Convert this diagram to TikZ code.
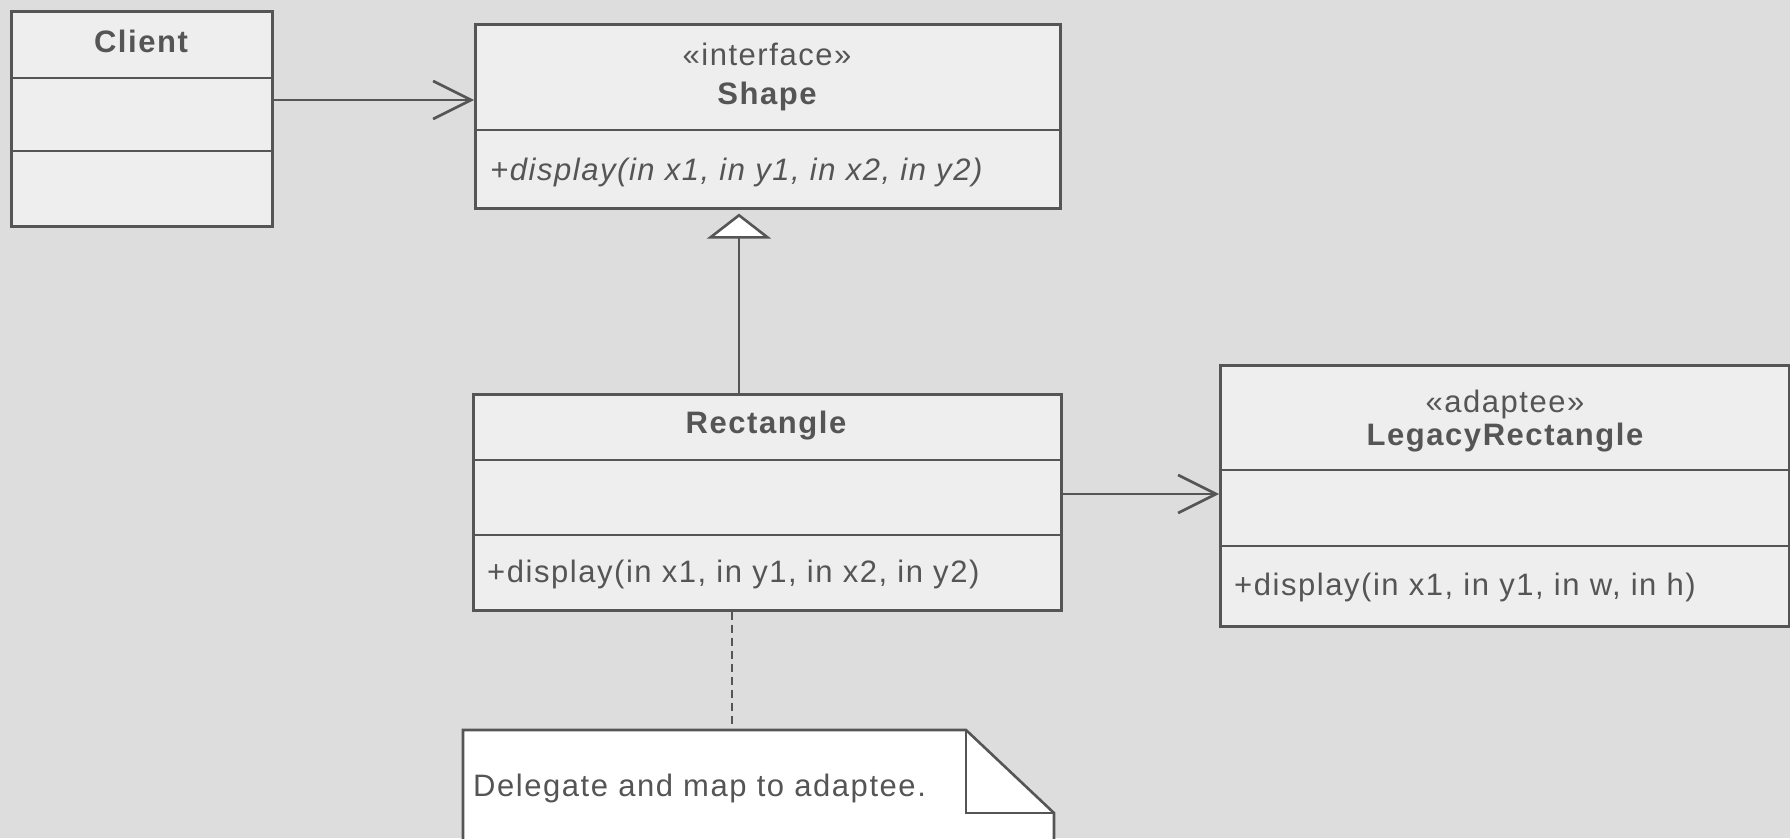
\documentclass[tikz,border=0pt]{standalone}
\usepackage{fontspec}
\setmainfont{Liberation Sans}[LetterSpace=5]
\usetikzlibrary{arrows.meta}
\definecolor{bg}{HTML}{DDDDDD}
\definecolor{boxfill}{HTML}{EEEEEE}
\definecolor{ln}{HTML}{555555}
\definecolor{tx}{HTML}{555555}
\begin{document}
\begin{tikzpicture}[x=1pt,y=-1pt,
  classbox/.style={draw=ln, fill=boxfill, line width=2.6pt, rectangle, inner sep=0pt, anchor=north west},
  divider/.style={draw=ln, line width=2.6pt},
  lbl/.style={text=tx, font=\fontsize{31}{37}\selectfont, inner sep=0pt, anchor=base},
  boldlbl/.style={lbl, font=\fontsize{31}{37}\selectfont\bfseries},
  oplbl/.style={lbl, anchor=base west},
  assoc/.style={draw=ln, line width=2.6pt, -{Straight Barb[length=38pt,width=38pt]}},
  realize/.style={draw=ln, line width=2.6pt, -{Triangle[length=25pt,width=64pt,fill=white]}, shorten >=4pt},
  notelink/.style={draw=ln, line width=2.4pt, dash pattern=on 8pt off 5pt},
  notebox/.style={draw=ln, fill=white, line width=2.6pt, line join=miter}
]
\path[use as bounding box, fill=bg] (0,0) rectangle (1790,838);
\clip (0,0) rectangle (1790,838);

% Client
\node[classbox, minimum width=261pt, minimum height=215pt] (client) at (10,10) {};
\draw[divider] (10,78) -- (271,78);
\draw[divider] (10,151) -- (271,151);
\node[boldlbl] (clientname) at (141,52) {Client};

% Shape
\node[classbox, minimum width=585pt, minimum height=184pt] (shape) at (474,23) {};
\draw[divider] (474,130) -- (1059,130);
\node[lbl] (shapester) at (767,65) {«interface»};
\node[boldlbl] (shapename) at (767,104) {Shape};
\node[oplbl, font=\fontsize{31}{37}\selectfont\itshape] (shapeop) at (490,180) {+display(in x1, in y1, in x2, in y2)};

% Rectangle
\node[classbox, minimum width=588pt, minimum height=216pt] (rect) at (472,393) {};
\draw[divider] (472,460) -- (1060,460);
\draw[divider] (472,535) -- (1060,535);
\node[boldlbl] (rectname) at (766,433) {Rectangle};
\node[oplbl] (rectop) at (487,582) {+display(in x1, in y1, in x2, in y2)};

% LegacyRectangle
\node[classbox, minimum width=569pt, minimum height=261pt] (legacy) at (1219,364) {};
\draw[divider] (1219,470) -- (1788,470);
\draw[divider] (1219,546) -- (1788,546);
\node[lbl] (legster) at (1505,412) {«adaptee»};
\node[boldlbl] (legname) at (1505,445) {LegacyRectangle};
\node[oplbl] (legop) at (1234,595) {+display(in x1, in y1, in w, in h)};

% Note
\path[notebox] (463,730) -- (966,730) -- (1054,813) -- (1054,860) -- (463,860) -- cycle;
\draw[notebox, fill=none] (966,730) -- (966,813) -- (1054,813);
\node[oplbl] (note) at (473,796) {Delegate and map to adaptee.};
\coordinate (notetop) at (732,730);

% Connectors
\draw[assoc] (client.east |- 0,100) -- (shape.west |- 0,100);
\draw[realize] (rect.north -| 739,0) -- (shape.south -| 739,0);
\draw[assoc] (rect.east |- 0,494) -- (legacy.west |- 0,494);
\draw[notelink] (rect.south -| notetop) -- (notetop);
\end{tikzpicture}
\end{document}
